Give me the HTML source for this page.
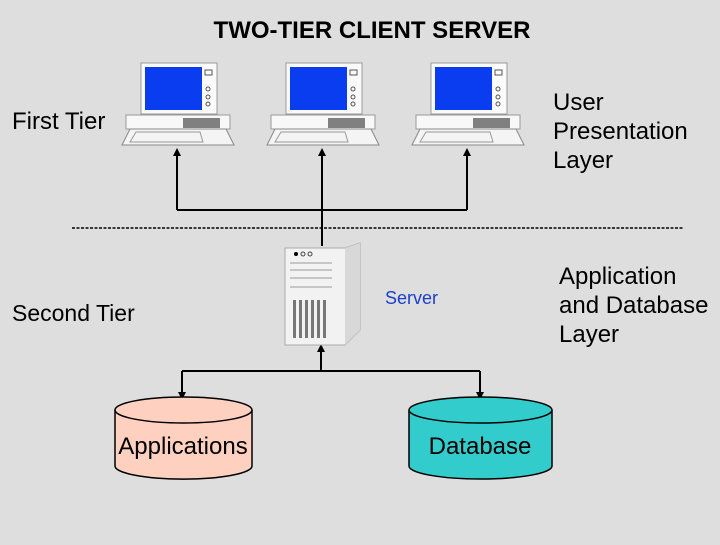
<!DOCTYPE html>
<html><head><style>
body{margin:0;width:720px;height:540px;background:#dedede;overflow:hidden;font-family:"Liberation Sans",sans-serif;}
</style></head><body>
<svg width="720" height="540" xmlns="http://www.w3.org/2000/svg">
<defs>
<marker id="ah" markerWidth="8" markerHeight="8" refX="4" refY="4" orient="auto" markerUnits="userSpaceOnUse">
<path d="M0,0 L8,4 L0,8 z" fill="#000"/></marker>
<g id="pc">
<rect x="141" y="63" width="76" height="51" fill="#fafafa" stroke="#999"/>
<rect x="145" y="67" width="57" height="43" fill="#0a3cf0"/>
<rect x="205" y="70" width="7" height="5" fill="none" stroke="#555"/>
<circle cx="208" cy="89" r="2" fill="none" stroke="#555"/>
<circle cx="208" cy="97" r="2" fill="none" stroke="#555"/>
<circle cx="208" cy="104" r="2" fill="none" stroke="#555"/>
<rect x="126" y="115" width="104" height="14" fill="#f8f8f8" stroke="#999"/>
<rect x="183" y="118" width="37" height="10" fill="#808080"/>
<path d="M130,129 L226,129 L234,145 L122,145 z" fill="#f4f4f4" stroke="#888"/>
<path d="M136,132 L200,132 L203,142 L130,142 z" fill="none" stroke="#999"/>
</g>
</defs>
<rect width="720" height="540" fill="#dedede"/>
<text x="372" y="38" font-size="24" text-anchor="middle" font-weight="bold" fill="#000">TWO-TIER CLIENT SERVER</text>
<use href="#pc"/>
<use href="#pc" x="145"/>
<use href="#pc" x="290"/>
<text x="12" y="129" font-size="24">First Tier</text>
<text x="553" y="110" font-size="24">User</text>
<text x="553" y="139" font-size="24">Presentation</text>
<text x="553" y="168" font-size="24">Layer</text>
<g stroke="#000" stroke-width="2" fill="none">
<path d="M177,210 L177,152" marker-end="url(#ah)"/>
<path d="M322,210 L322,152" marker-end="url(#ah)"/>
<path d="M467,210 L467,152" marker-end="url(#ah)"/>
<path d="M177,210 L467,210 M322,210 L322,246"/>
<path d="M321,371 L321,348" marker-end="url(#ah)"/>
<path d="M182,371 L480,371"/>
<path d="M182,371 L182,396" marker-end="url(#ah)"/>
<path d="M480,371 L480,396" marker-end="url(#ah)"/>
</g>
<line x1="72" y1="228" x2="683" y2="228" stroke="#000" stroke-width="1.5" stroke-dasharray="3,1.5"/>
<path d="M285,248 L345,248 L360,243 L360,330 L345,345 L285,345 z" fill="#f2f2f2" stroke="#aaa"/>
<path d="M345,248 L360,243 L360,330 L345,345 z" fill="#d8d8d8"/>
<circle cx="296" cy="254" r="2" fill="#000"/><circle cx="303" cy="254" r="2" fill="none" stroke="#444"/><circle cx="310" cy="254" r="2" fill="none" stroke="#444"/>
<g stroke="#999"><line x1="290" y1="263" x2="332" y2="263"/><line x1="290" y1="270" x2="332" y2="270"/><line x1="290" y1="278" x2="332" y2="278"/><line x1="290" y1="287" x2="332" y2="287"/></g>
<g fill="#777"><rect x="293" y="300" width="3" height="38"/><rect x="299" y="300" width="3" height="38"/><rect x="305" y="300" width="3" height="38"/><rect x="311" y="300" width="3" height="38"/><rect x="317" y="300" width="3" height="38"/><rect x="323" y="300" width="3" height="38"/></g>
<text x="385" y="304" font-size="18" fill="#1a3fc8">Server</text>
<text x="12" y="321" font-size="23">Second Tier</text>
<text x="559" y="284" font-size="24">Application</text>
<text x="559" y="313" font-size="24">and Database</text>
<text x="559" y="342" font-size="24">Layer</text>
<path d="M115,410 L115,466 A68,13 0 0 0 252,466 L252,410" fill="#fdd0c0" stroke="#000" stroke-width="1.5"/>
<ellipse cx="183.5" cy="410" rx="68.5" ry="13" fill="#fdd0c0" stroke="#000" stroke-width="1.5"/>
<text x="183" y="454" font-size="24" text-anchor="middle">Applications</text>
<path d="M409,410 L409,466 A71.5,13 0 0 0 552,466 L552,410" fill="#33cccc" stroke="#000" stroke-width="1.5"/>
<ellipse cx="480.5" cy="410" rx="71.5" ry="13" fill="#33cccc" stroke="#000" stroke-width="1.5"/>
<text x="480" y="454" font-size="24" text-anchor="middle">Database</text>
</svg>
</body></html>
